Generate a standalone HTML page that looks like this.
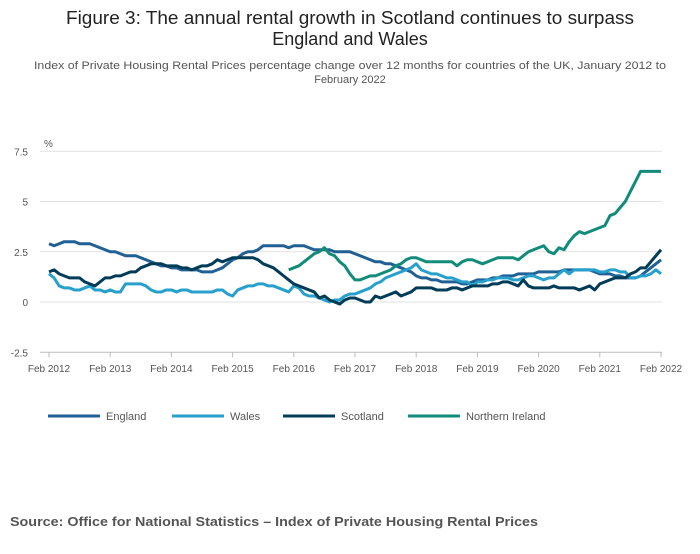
<!DOCTYPE html>
<html><head><meta charset="utf-8"><style>
body{margin:0;background:#fff;font-family:"Liberation Sans",sans-serif}
</style></head><body>
<svg width="700" height="549" xmlns="http://www.w3.org/2000/svg" font-family="Liberation Sans, sans-serif">
<text x="66" y="24" textLength="568" lengthAdjust="spacingAndGlyphs" font-size="18" fill="#222">Figure 3: The annual rental growth in Scotland continues to surpass</text>
<text x="350" y="45" text-anchor="middle" font-size="18" fill="#222">England and Wales</text>
<text x="34" y="69" textLength="632" lengthAdjust="spacingAndGlyphs" font-size="11" fill="#555">Index of Private Housing Rental Prices percentage change over 12 months for countries of the UK, January 2012 to</text>
<text x="350" y="83" text-anchor="middle" font-size="11" fill="#555">February 2022</text>
<text x="44" y="147" font-size="10" fill="#555">%</text>
<g id="grid"></g><g id="xaxis"></g><g id="lines"></g>
<g id="legend"></g>
<text x="10" y="526" textLength="528" lengthAdjust="spacingAndGlyphs" font-size="13" font-weight="bold" fill="#555">Source: Office for National Statistics – Index of Private Housing Rental Prices</text>
</svg>
<script>
const yTicks=[7.5,5,2.5,0,-2.5];
const yTickLabels=["7.5","5","2.5","0","-2.5"];
const xTickLabels=["Feb 2012","Feb 2013","Feb 2014","Feb 2015","Feb 2016","Feb 2017","Feb 2018","Feb 2019","Feb 2020","Feb 2021","Feb 2022"];
const england=[2.9,2.8,2.9,3.0,3.0,3.0,2.9,2.9,2.9,2.8,2.7,2.6,
2.5,2.5,2.4,2.3,2.3,2.3,2.2,2.1,2.0,1.9,1.8,1.8,
1.7,1.7,1.6,1.6,1.6,1.6,1.5,1.5,1.5,1.6,1.7,1.9,
2.1,2.2,2.4,2.5,2.5,2.6,2.8,2.8,2.8,2.8,2.8,2.7,
2.8,2.8,2.8,2.7,2.6,2.6,2.6,2.6,2.5,2.5,2.5,2.5,
2.4,2.3,2.2,2.1,2.0,2.0,1.9,1.9,1.8,1.7,1.6,1.5,
1.3,1.2,1.2,1.1,1.1,1.0,1.0,1.0,1.0,0.9,0.9,1.0,
1.1,1.1,1.1,1.2,1.2,1.3,1.3,1.3,1.4,1.4,1.4,1.4,
1.5,1.5,1.5,1.5,1.5,1.6,1.6,1.6,1.6,1.6,1.6,1.5,
1.4,1.4,1.4,1.3,1.3,1.2,1.2,1.2,1.3,1.5,1.7,1.9,2.1];
const wales=[1.4,1.2,0.8,0.7,0.7,0.6,0.6,0.7,0.8,0.6,0.6,0.5,
0.6,0.5,0.5,0.9,0.9,0.9,0.9,0.8,0.6,0.5,0.5,0.6,
0.6,0.5,0.6,0.6,0.5,0.5,0.5,0.5,0.5,0.6,0.6,0.4,
0.3,0.6,0.7,0.8,0.8,0.9,0.9,0.8,0.8,0.7,0.6,0.5,
0.8,0.7,0.4,0.3,0.3,0.2,0.1,0.0,0.1,0.1,0.3,0.4,
0.4,0.5,0.6,0.7,0.9,1.0,1.2,1.3,1.4,1.5,1.6,1.7,
1.9,1.6,1.5,1.4,1.4,1.3,1.2,1.2,1.1,1.0,1.0,0.8,
1.0,1.0,1.1,1.1,1.2,1.2,1.2,1.1,1.1,1.2,1.3,1.3,
1.2,1.1,1.2,1.2,1.4,1.6,1.4,1.6,1.6,1.6,1.6,1.6,
1.5,1.5,1.6,1.6,1.5,1.5,1.2,1.2,1.3,1.3,1.4,1.6,1.4];
const scotland=[1.5,1.6,1.4,1.3,1.2,1.2,1.2,1.0,0.9,0.8,1.0,1.2,
1.2,1.3,1.3,1.4,1.5,1.5,1.7,1.8,1.9,1.9,1.9,1.8,
1.8,1.8,1.7,1.7,1.6,1.7,1.8,1.8,1.9,2.1,2.0,2.1,
2.2,2.2,2.2,2.2,2.2,2.1,1.9,1.8,1.7,1.5,1.3,1.1,
0.9,0.8,0.7,0.6,0.5,0.2,0.3,0.1,0.0,-0.1,0.1,0.2,
0.2,0.1,0.0,0.0,0.3,0.2,0.3,0.4,0.5,0.3,0.4,0.5,
0.7,0.7,0.7,0.7,0.6,0.6,0.6,0.7,0.7,0.6,0.7,0.8,
0.8,0.8,0.8,0.9,0.9,1.0,1.0,0.9,0.8,1.1,0.8,0.7,
0.7,0.7,0.7,0.8,0.7,0.7,0.7,0.7,0.6,0.7,0.8,0.6,
0.9,1.0,1.1,1.2,1.2,1.2,1.4,1.5,1.7,1.7,2.0,2.3,2.6];
const niStart=47;
const northernIreland=[1.6,1.7,1.8,2.0,2.2,2.4,2.5,2.7,2.4,2.3,2.0,1.8,
1.4,1.1,1.1,1.2,1.3,1.3,1.4,1.5,1.6,1.8,1.9,2.1,
2.2,2.2,2.1,2.0,2.0,2.0,2.0,2.0,2.0,1.8,2.0,2.1,
2.1,2.0,1.9,2.0,2.1,2.2,2.2,2.2,2.2,2.1,2.3,2.5,
2.6,2.7,2.8,2.5,2.4,2.7,2.6,3.0,3.3,3.5,3.4,3.5,
3.6,3.7,3.8,4.3,4.4,4.7,5.0,5.5,6.0,6.5,6.5,6.5,
6.5,6.5];
const NS="http://www.w3.org/2000/svg";
const X0=49,X1=661,Y0=302,PU=20.1;
const xs=i=>X0+(X1-X0)*i/120;
const ys=v=>Y0-v*PU;
function mk(t,a,p){const e=document.createElementNS(NS,t);for(const k in a)e.setAttribute(k,a[k]);p.appendChild(e);return e;}
const grid=document.getElementById('grid');
yTicks.forEach((v,i)=>{
 const l=mk('line',{x1:40,x2:662,y1:ys(v),y2:ys(v),stroke:v===-2.5?'#bbb':'#e2e2e2','stroke-width':1},grid);
 
 
 const t=mk('text',{x:28,y:ys(v)+4,'text-anchor':'end','font-size':10,fill:'#555'},grid);
 t.textContent=yTickLabels[i];
 
 
});
const xa=document.getElementById('xaxis');
xTickLabels.forEach((s,i)=>{
 const x=xs(i*12);
 const tk=mk('line',{x1:x,x2:x,y1:ys(-2.5),y2:ys(-2.5)+5,stroke:'#bbb'},xa);
 
 
 const t=mk('text',{x:x,y:372,'text-anchor':'middle','font-size':10,fill:'#555'},xa);
 t.textContent=s;
 
 
});
const series=[["england",england,0,"#206095","England"],["wales",wales,0,"#27a0cc","Wales"],["scotland",scotland,0,"#003c57","Scotland"],["northern-ireland",northernIreland,niStart,"#118c7b","Northern Ireland"]];
const lg=document.getElementById('lines');
series.forEach(([n,d,st,c])=>{
 const p=mk('polyline',{points:d.map((v,i)=>xs(st+i)+','+ys(v)).join(' '),fill:'none',stroke:c,'stroke-width':3,'stroke-linejoin':'round'},lg);
 
 
});
const leg=document.getElementById('legend');
const lx=[48,172,283,408];
series.forEach(([n,,,c,label],i)=>{
 const l=mk('line',{x1:lx[i],x2:lx[i]+52,y1:416,y2:416,stroke:c,'stroke-width':3},leg);
 
 
 const t=mk('text',{x:lx[i]+58,y:420,'font-size':11,fill:'#555'},leg);
 t.textContent=label;
 
 
});
</script>
</body></html>
